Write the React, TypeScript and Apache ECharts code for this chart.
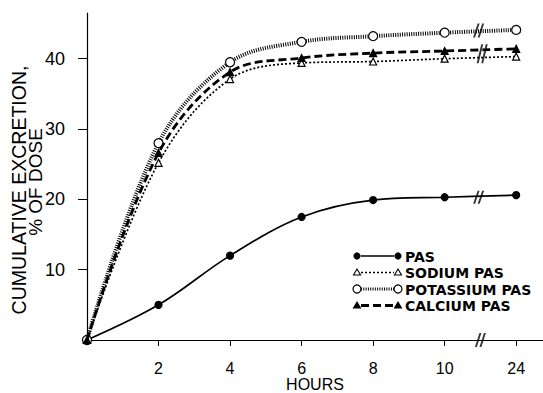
import React, { useEffect, useRef } from "react";
import * as echarts from "echarts";

// Hours sampled; 24 h is drawn after an axis break at the slot of "12"
const hours = [0, 2, 4, 6, 8, 10, 24];
const tickPositions = [2, 4, 6, 8, 10, 12];
const tickLabels = ["2", "4", "6", "8", "10", "24"];
const yTicks = [10, 20, 30, 40];
const yTitleLines = ["CUMULATIVE EXCRETION,", "% OF DOSE"];

const seriesNames = ["PAS", "SODIUM PAS", "POTASSIUM PAS", "CALCIUM PAS"];
const pas = [0, 5.0, 12.0, 17.5, 19.9, 20.3, 20.6];
const sodiumPas = [0, 25.2, 37.1, 39.4, 39.6, 40.0, 40.3];
const potassiumPas = [0, 28.0, 39.5, 42.4, 43.2, 43.7, 44.1];
const calciumPas = [0, 26.6, 38.1, 40.1, 40.8, 41.1, 41.4];

// break marks "//" (position on axis, value, mark height)
const breakX = [10.95, 10.95, 11.05, 11.0];
const breakY = [20.3, 44.0, 40.7, 0];
const breakH = [13, 14, 19, 14];

const FONT = "'Liberation Sans', Arial, sans-serif";
const LEGEND_FONT = "'DejaVu Sans', 'Liberation Sans', sans-serif";

const pos = (h: number) => (h === 24 ? 12 : h);

const styles = [
  { symbol: "circle", size: 7, fill: "#000", line: { width: 1.7, type: "solid" as any } },
  { symbol: "triangle", size: 7, fill: "#fff", line: { width: 1.7, type: [2, 2] as any } },
  { symbol: "circle", size: 9, fill: "#fff", line: { width: 4, type: [1, 1.3] as any } },
  { symbol: "triangle", size: 7, fill: "#000", line: { width: 2.8, type: [8, 4] as any } },
];

const seriesData = [pas, sodiumPas, potassiumPas, calciumPas];

export default function App() {
  const ref = useRef<HTMLDivElement>(null);
  useEffect(() => {
    if (!ref.current) return;
    const chart = echarts.init(ref.current, undefined, { renderer: "svg" });

    const series: any[] = seriesData.map((vals, i) => ({
      name: seriesNames[i],
      type: "line",
      smooth: 0.35,
      data: vals.map((v, j) => [pos(hours[j]), v]),
      symbol: styles[i].symbol,
      symbolSize: styles[i].size,
      showSymbol: true,
      lineStyle: { color: "#000", width: styles[i].line.width, type: styles[i].line.type },
      itemStyle: { color: styles[i].fill, borderColor: "#000", borderWidth: 1.2 },
      z: 3 + i,
    }));

    series.push({
      name: "breaks",
      type: "scatter",
      symbol: "path://M0,20 L7,0 L10,0 L3,20 Z M7,20 L14,0 L17,0 L10,20 Z",
      data: breakY.map((v, i) => ({ value: [breakX[i], v], symbolSize: [11, breakH[i]] })),
      itemStyle: { color: "#000" },
      clip: false,
      z: 10,
    });

    // legend drawn with graphic elements: symbol — line — symbol + text
    const legendRows = [256, 272.5, 289, 305.5];
    const lx0 = 357;
    const lx1 = 398;
    const els: any[] = [];
    const drawSym = (i: number, x: number, y: number) => {
      const s = styles[i];
      if (s.symbol === "circle") {
        els.push({
          type: "circle",
          shape: { cx: x, cy: y, r: s.size / 2 - 0.5 },
          style: { fill: s.fill, stroke: "#000", lineWidth: 1.2 },
          z: 20,
        });
      } else {
        const h = s.size;
        els.push({
          type: "polygon",
          shape: { points: [[x, y - h / 2], [x + h / 2, y + h / 2 - 1], [x - h / 2, y + h / 2 - 1]] },
          style: { fill: s.fill, stroke: "#000", lineWidth: 1.1 },
          z: 20,
        });
      }
    };
    seriesNames.forEach((name, i) => {
      const y = legendRows[i];
      const s = styles[i];
      els.push({
        type: "line",
        shape: { x1: lx0 + 4, y1: y, x2: lx1 - 4, y2: y },
        style: { stroke: "#000", lineWidth: Math.min(s.line.width, 3), lineDash: Array.isArray(s.line.type) ? s.line.type : null },
        z: 19,
      });
      drawSym(i, lx0, y);
      drawSym(i, lx1, y);
      els.push({
        type: "text",
        x: 405,
        y: y + 0.5,
        style: {
          text: name,
          font: `bold 14px ${LEGEND_FONT}`,
          fill: "#000",
          verticalAlign: "middle",
          textAlign: "left",
        },
        z: 20,
      });
    });

    // y-axis title, two rotated lines
    els.push({
      type: "text",
      x: 19,
      y: 190,
      rotation: Math.PI / 2,
      style: { text: yTitleLines[0], font: `19.5px ${FONT}`, fill: "#000", textAlign: "center", verticalAlign: "middle" },
    });
    els.push({
      type: "text",
      x: 35,
      y: 182,
      rotation: Math.PI / 2,
      style: { text: yTitleLines[1], font: `19px ${FONT}`, fill: "#000", textAlign: "center", verticalAlign: "middle" },
    });

    chart.setOption({
      animation: false,
      backgroundColor: "#fff",
      grid: { left: 87, right: 0, top: 13, bottom: 53, outerBoundsMode: "none", containLabel: false },
      xAxis: {
        type: "value",
        min: 0,
        max: 12.75,
        name: "HOURS",
        nameLocation: "middle",
        nameGap: 36,
        nameMoveOverlap: false,
        nameTextStyle: { fontFamily: FONT, fontSize: 16, color: "#000", verticalAlign: "top" },
        axisLine: { show: true, lineStyle: { color: "#000", width: 1.2 } },
        axisTick: { show: true, customValues: tickPositions, length: 6, lineStyle: { color: "#000" } },
        axisLabel: {
          customValues: tickPositions,
          formatter: (v: number) => tickLabels[tickPositions.indexOf(v)] ?? "",
          fontFamily: FONT,
          fontSize: 16,
          color: "#000",
          margin: 20,
        },
        splitLine: { show: false },
      },
      yAxis: {
        type: "value",
        min: 0,
        max: 46.5,
        axisLine: { show: true, lineStyle: { color: "#000", width: 1.2 } },
        axisTick: { show: true, customValues: yTicks, length: 9, lineStyle: { color: "#000" } },
        axisLabel: {
          customValues: yTicks,
          fontFamily: FONT,
          fontSize: 18,
          color: "#000",
          margin: 22,
        },
        splitLine: { show: false },
      },
      series,
      graphic: els,
    });
    return () => chart.dispose();
  }, []);
  return (
    <div
      ref={ref}
      style={{ position: "fixed", left: 0, top: 0, width: 543, height: 393, background: "#fff" }}
    />
  );
}
